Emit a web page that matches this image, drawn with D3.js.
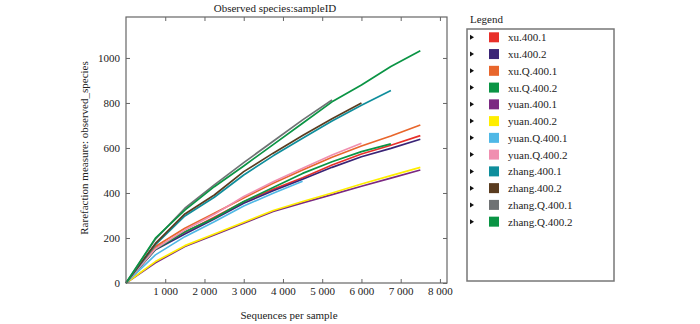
<!DOCTYPE html>
<html>
<head>
<meta charset="utf-8">
<script src="https://cdn.jsdelivr.net/npm/d3@7"></script>
<style>
  body { margin: 0; background: #fff; }
  text { font-family: "Liberation Serif", "DejaVu Serif", serif; fill: #222; }
</style>
</head>
<body>
<svg id="chart" width="700" height="324"></svg>
<script>
// sampling depths (sequences per sample)
const depths = [0, 750, 1500, 2250, 3000, 3750, 4500, 5250, 6000, 6750, 7500];

const sampleNames = ["xu.400.1", "xu.400.2", "xu.Q.400.1", "xu.Q.400.2", "yuan.400.1", "yuan.400.2",
  "yuan.Q.400.1", "yuan.Q.400.2", "zhang.400.1", "zhang.400.2", "zhang.Q.400.1", "zhang.Q.400.2"];
const sampleColors = ["#e8302a", "#3a2476", "#e8662c", "#0a9444", "#7b2982", "#ffee00",
  "#4fb8e6", "#f08fb0", "#0f8e9c", "#5a3c1f", "#6f7274", "#0a9444"];

// observed species per depth
const xu400_1   = [0, 155, 225, 292, 361, 416, 468, 524, 573, 612, 655];
const xu400_2   = [0, 148, 218, 284, 354, 410, 461, 514, 561, 598, 639];
const xuQ400_1  = [0, 162, 243, 310, 378, 443, 502, 559, 609, 653, 702];
const xuQ400_2  = [0, 150, 228, 288, 362, 424, 487, 539, 584, 618];
const yuan400_1 = [0, 90, 162, 214, 266, 318, 356, 393, 430, 466, 502];
const yuan400_2 = [0, 95, 166, 218, 270, 322, 362, 400, 440, 477, 514];
const yuanQ400_1 = [0, 125, 206, 272, 342, 399, 452];
const yuanQ400_2 = [0, 152, 235, 305, 384, 450, 510, 569, 621];
const zhang400_1 = [0, 170, 298, 381, 480, 565, 643, 720, 790, 855];
const zhang400_2 = [0, 176, 307, 391, 495, 577, 655, 730, 800];
const zhangQ400_1 = [0, 195, 332, 436, 535, 630, 725, 813];
const zhangQ400_2 = [0, 199, 324, 428, 520, 615, 710, 805, 880, 962, 1032];

const seriesValues = [xu400_1, xu400_2, xuQ400_1, xuQ400_2, yuan400_1, yuan400_2,
  yuanQ400_1, yuanQ400_2, zhang400_1, zhang400_2, zhangQ400_1, zhangQ400_2];

const xTicks = [1000, 2000, 3000, 4000, 5000, 6000, 7000, 8000];
const xTickLabels = ["1 000", "2 000", "3 000", "4 000", "5 000", "6 000", "7 000", "8 000"];
const yTicks = [0, 200, 400, 600, 800, 1000];

const svg = d3.select("#chart");
const plot = { left: 126, right: 447, top: 17, bottom: 283 };

const xScale = d3.scaleLinear().domain([0, 8180]).range([plot.left, plot.right]);
const yScale = d3.scaleLinear().domain([0, 1182]).range([plot.bottom, plot.top]);

// lines
const line = d3.line()
  .x((d, i) => xScale(depths[i]))
  .y(d => yScale(d));

svg.append("g").selectAll("path")
  .data(seriesValues)
  .join("path")
  .attr("fill", "none")
  .attr("stroke", (d, i) => sampleColors[i])
  .attr("stroke-width", 1.7)
  .attr("stroke-linejoin", "round")
  .attr("d", line);

// axes, matplotlib style: inward ticks on all four sides
const axisColor = "#666";
const axBottom = svg.append("g").attr("transform", `translate(0,${plot.bottom})`)
  .call(d3.axisBottom(xScale).tickValues(xTicks).tickSizeInner(-4).tickSizeOuter(0).tickPadding(4)
    .tickFormat((d, i) => xTickLabels[i]));
const axTop = svg.append("g").attr("transform", `translate(0,${plot.top})`)
  .call(d3.axisTop(xScale).tickValues(xTicks).tickSizeInner(-4).tickSizeOuter(0).tickFormat(""));
const axLeft = svg.append("g").attr("transform", `translate(${plot.left},0)`)
  .call(d3.axisLeft(yScale).tickValues(yTicks).tickSizeInner(-4).tickSizeOuter(0).tickPadding(6).tickFormat(d3.format("d")));
const axRight = svg.append("g").attr("transform", `translate(${plot.right},0)`)
  .call(d3.axisRight(yScale).tickValues(yTicks).tickSizeInner(-4).tickSizeOuter(0).tickFormat(""));

[axBottom, axTop, axLeft, axRight].forEach(a => {
  a.select(".domain").remove();
  a.selectAll(".tick line").attr("stroke", axisColor);
  a.selectAll(".tick text").style("font-family", "Liberation Serif").style("font-size", "11px").attr("fill", "#222");
});
axLeft.selectAll(".tick line").filter(d => d === 0).remove();

svg.append("rect")
  .attr("x", plot.left).attr("y", plot.top)
  .attr("width", plot.right - plot.left).attr("height", plot.bottom - plot.top)
  .attr("fill", "none").attr("stroke", axisColor).attr("stroke-width", 1.2);

// titles
svg.append("text")
  .attr("x", 275).attr("y", 12)
  .attr("text-anchor", "middle")
  .style("font-size", "11px")
  .text("Observed species:sampleID");

svg.append("text")
  .attr("x", 289).attr("y", 319)
  .attr("text-anchor", "middle")
  .style("font-size", "11px")
  .text("Sequences per sample");

svg.append("text")
  .attr("transform", `translate(88,${(plot.top + plot.bottom) / 2 - 2}) rotate(-90)`)
  .attr("text-anchor", "middle")
  .style("font-size", "11px")
  .text("Rarefaction measure: observed_species");

// legend
const legend = svg.append("g");
legend.append("text")
  .attr("x", 470).attr("y", 23)
  .style("font-size", "11px")
  .text("Legend");

legend.append("rect")
  .attr("x", 467).attr("y", 29)
  .attr("width", 147).attr("height", 252)
  .attr("fill", "none").attr("stroke", "#777").attr("stroke-width", 1.5);

const rows = legend.selectAll("g.row")
  .data(sampleNames)
  .join("g")
  .attr("class", "row")
  .attr("transform", (d, i) => `translate(0,${37.3 + i * 16.76})`);

rows.append("path")
  .attr("d", "M470,-2.5 L474,0 L470,2.5 Z")
  .attr("fill", "#111");

rows.append("rect")
  .attr("x", 489).attr("y", -5)
  .attr("width", 10).attr("height", 10)
  .attr("fill", (d, i) => sampleColors[i]);

rows.append("text")
  .attr("x", 508).attr("y", 4)
  .style("font-size", "11px")
  .text(d => d);
</script>
</body>
</html>
